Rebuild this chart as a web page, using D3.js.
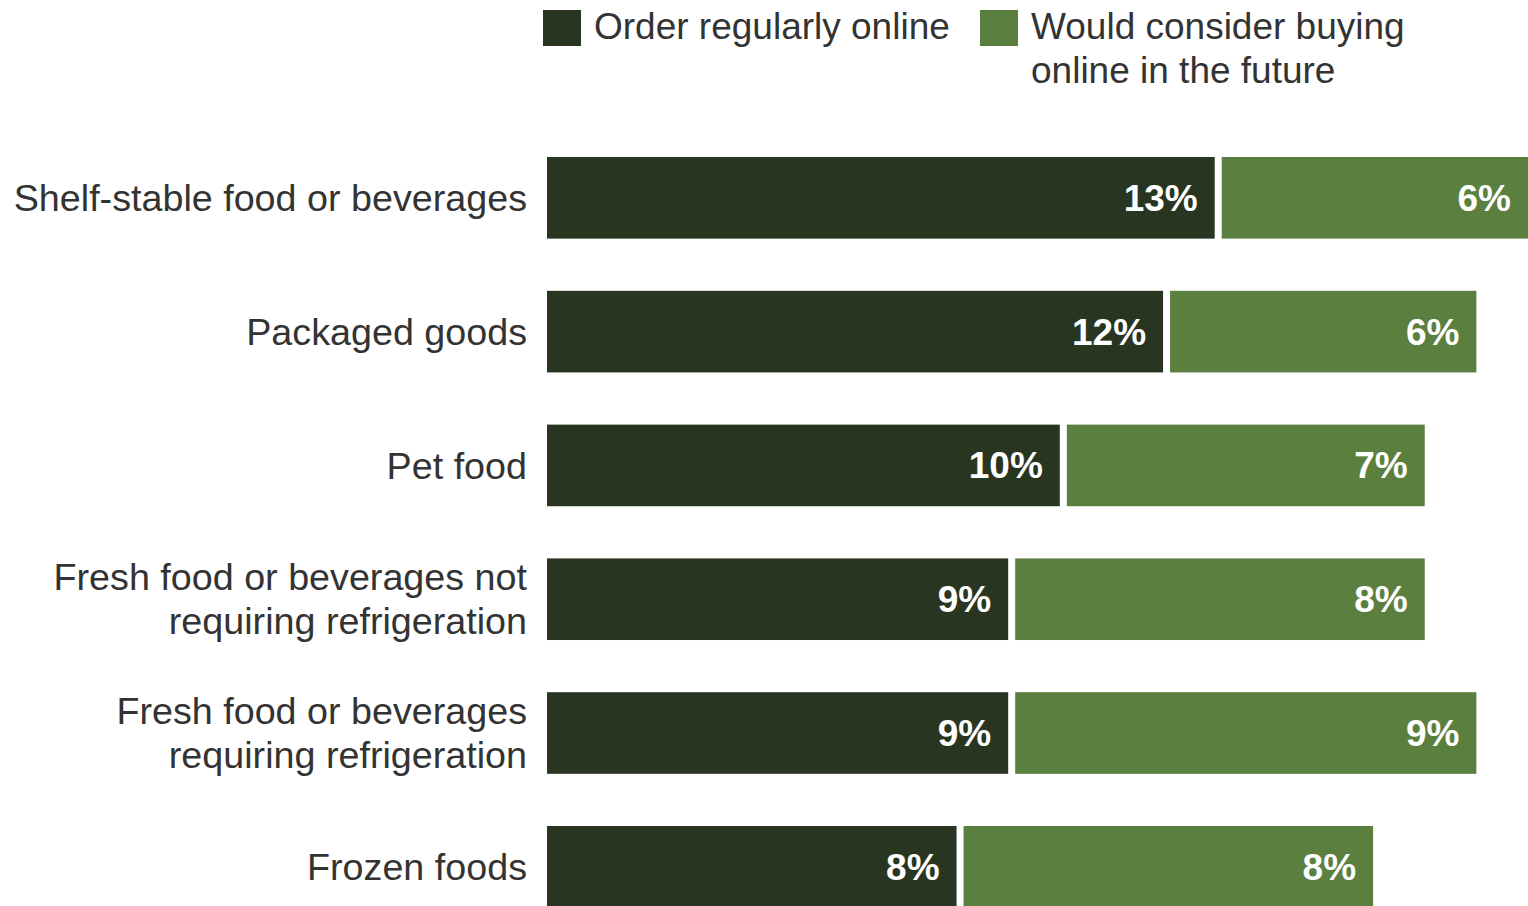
<!DOCTYPE html>
<html>
<head>
<meta charset="utf-8">
<script src="https://cdn.jsdelivr.net/npm/d3@7"></script>
<style>
  body { margin: 0; background: #fff; }
  svg { display: block; font-family: "Liberation Sans", Arial, Helvetica, sans-serif; }
</style>
</head>
<body>
<div id="chart"></div>
<script>
const categories = [
  ["Shelf-stable food or beverages"],
  ["Packaged goods"],
  ["Pet food"],
  ["Fresh food or beverages not", "requiring refrigeration"],
  ["Fresh food or beverages", "requiring refrigeration"],
  ["Frozen foods"]
];
const orderOnline = [13, 12, 10, 9, 9, 8];
const wouldConsider = [6, 6, 7, 8, 9, 8];
const seriesNames = ["Order regularly online", ["Would consider buying", "online in the future"]];
const colors = ["#283621", "#5b7f3f"];

const width = 1528, height = 906;
const svg = d3.select("#chart").append("svg")
  .attr("width", width)
  .attr("height", height);

const keys = categories.map(c => c.join(" "));

// x: percent scale
var x = d3.scaleLinear()
  .domain([0, 19])
  .range([547, 1528]);

// y: one band per category
const step = 133.8;
const r0 = 157 - step * 0.195;
var y = d3.scaleBand()
  .domain(keys)
  .range([r0, r0 + step * keys.length])
  .paddingInner(0.39)
  .paddingOuter(0.195);

const gap = 3.5;
const rows = keys.map((k, i) => ({ key: k, lines: categories[i], a: orderOnline[i], b: wouldConsider[i] }));

const row = svg.append("g")
  .selectAll("g")
  .data(rows)
  .join("g");

// dark segment
row.append("rect")
  .attr("x", x(0))
  .attr("y", d => y(d.key))
  .attr("width", d => x(d.a) - gap - x(0))
  .attr("height", y.bandwidth())
  .attr("fill", colors[0]);

// green segment
row.append("rect")
  .attr("x", d => x(d.a) + gap)
  .attr("y", d => y(d.key))
  .attr("width", d => x(d.a + d.b) - x(d.a) - gap)
  .attr("height", y.bandwidth())
  .attr("fill", colors[1]);

// value labels
row.append("text")
  .attr("x", d => x(d.a) - gap - 17)
  .attr("y", d => y(d.key) + y.bandwidth() / 2)
  .attr("dy", "0.35em")
  .attr("text-anchor", "end")
  .attr("fill", "#fff")
  .attr("font-size", 37)
  .attr("font-weight", "bold")
  .text(d => d.a + "%");

row.append("text")
  .attr("x", d => x(d.a + d.b) - 17)
  .attr("y", d => y(d.key) + y.bandwidth() / 2)
  .attr("dy", "0.35em")
  .attr("text-anchor", "end")
  .attr("fill", "#fff")
  .attr("font-size", 37)
  .attr("font-weight", "bold")
  .text(d => d.b + "%");

// category labels
const lineH = 44;
row.append("text")
  .attr("text-anchor", "end")
  .attr("fill", "#333")
  .attr("font-size", 37.7)
  .each(function(d) {
    const n = d.lines.length;
    const cy = y(d.key) + y.bandwidth() / 2;
    d3.select(this).selectAll("tspan")
      .data(d.lines)
      .join("tspan")
      .attr("x", 527)
      .attr("y", (l, j) => cy + (j - (n - 1) / 2) * lineH)
      .attr("dy", "0.35em")
      .text(l => l);
  });

// legend
const legend = svg.append("g");
const legendX = [543, 980];
seriesNames.forEach((name, i) => {
  legend.append("rect")
    .attr("x", legendX[i])
    .attr("y", 10)
    .attr("width", 38)
    .attr("height", 36)
    .attr("fill", colors[i]);
  const lines = Array.isArray(name) ? name : [name];
  legend.append("text")
    .attr("fill", "#333")
    .attr("font-size", 37)
    .selectAll("tspan")
    .data(lines)
    .join("tspan")
    .attr("x", legendX[i] + 51)
    .attr("y", (l, j) => 39 + j * lineH)
    .text(l => l);
});
</script>
</body>
</html>
